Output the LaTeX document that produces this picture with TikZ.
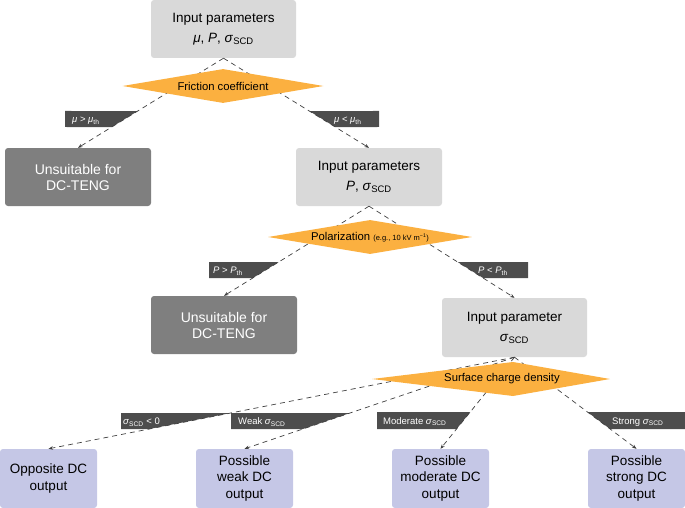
\documentclass[tikz,border=0pt]{standalone}
\usepackage{fontspec}
\setmainfont{Liberation Sans}
\usepackage{tikz}
\usetikzlibrary{arrows.meta,shapes.geometric}

\definecolor{boxgrey}{HTML}{D9D9D9}
\definecolor{unfitgrey}{HTML}{7F7F7F}
\definecolor{outblue}{HTML}{C5C7E6}
\definecolor{decorange}{HTML}{FBB040}
\definecolor{tabgrey}{HTML}{4D4D4D}

\newcommand{\scd}{\textit{σ}\textsubscript{SCD}}
\newcommand{\thr}[1]{\textit{#1}\textsubscript{th}}

\begin{document}
\begin{tikzpicture}[x=1pt, y=-1pt,
    inbox/.style={fill=boxgrey, rounded corners=3pt, minimum width=145pt, minimum height=58pt, inner sep=0pt, align=center, font=\fontsize{13.5}{20}\selectfont},
    unfit/.style={fill=unfitgrey, text=white, rounded corners=3pt, minimum width=146pt, minimum height=58pt, inner sep=0pt, align=center, font=\fontsize{14}{16}\selectfont},
    outbox/.style={fill=outblue, rounded corners=3pt, minimum width=97pt, minimum height=59pt, inner sep=0pt, align=center, font=\fontsize{13.5}{16.5}\selectfont},
    dectext/.style={inner sep=0pt, font=\fontsize{11.3}{13}\selectfont},
    decision/.style={dectext, diamond, aspect=6, fill=decorange},
    cond/.style={text=white, inner sep=0pt, anchor=base west, font=\fontsize{9.5}{11}\selectfont},
    flow/.style={draw=black!75, line width=0.7pt, dash pattern=on 5pt off 4pt, -{Stealth[length=4.5pt, width=3.5pt, fill=black]}}]
    \useasboundingbox (0,0) rectangle (685,508);

    \node[inbox] (in1) at (223.5,29) {Input parameters\\\textit{μ}, \textit{P}, \scd};
    \node[unfit] (unfit1) at (78,177) {Unsuitable for\\DC-TENG};
    \node[inbox, minimum width=146pt] (in2) at (369,177) {Input parameters\\\textit{P}, \scd};
    \node[unfit] (unfit2) at (224,325) {Unsuitable for\\DC-TENG};
    \node[inbox, minimum height=59pt] (in3) at (514.5,327.5) {Input parameter\\\scd};
    \node[outbox] (opp) at (48.5,478.5) {Opposite DC\\output};
    \node[outbox] (weak) at (244.5,478.5) {Possible\\weak DC\\output};
    \node[outbox] (moderate) at (440.5,478.5) {Possible\\moderate DC\\output};
    \node[outbox] (strong) at (636.5,478.5) {Possible\\strong DC\\output};

    % condition tabs, slanted side on the connector
    \fill[tabgrey] (65,111) -- (intersection of in1.south--unfit1.north and 0,111--1,111) -- (intersection of in1.south--unfit1.north and 0,127--1,127) -- (65,127) -- cycle;
    \fill[tabgrey] (intersection of in1.south--in2.north and 0,111--1,111) -- (379,111) -- (379,127) -- (intersection of in1.south--in2.north and 0,127--1,127) -- cycle;
    \fill[tabgrey] (209,262) -- (intersection of in2.south--unfit2.north and 0,262--1,262) -- (intersection of in2.south--unfit2.north and 0,278--1,278) -- (209,278) -- cycle;
    \fill[tabgrey] (intersection of in2.south--in3.north and 0,262--1,262) -- (528,262) -- (528,278) -- (intersection of in2.south--in3.north and 0,278--1,278) -- cycle;
    \fill[tabgrey] (121,413) -- (intersection of in3.south--opp.north and 0,413--1,413) -- (intersection of in3.south--opp.north and 0,429--1,429) -- (121,429) -- cycle;
    \fill[tabgrey] (231,413) -- (intersection of in3.south--weak.north and 0,413--1,413) -- (intersection of in3.south--weak.north and 0,429--1,429) -- (231,429) -- cycle;
    \fill[tabgrey] (377,412) -- (intersection of in3.south--moderate.north and 0,412--1,412) -- (intersection of in3.south--moderate.north and 0,429--1,429) -- (377,429) -- cycle;
    \fill[tabgrey] (intersection of in3.south--strong.north and 0,412--1,412) -- (686,412) -- (686,429) -- (intersection of in3.south--strong.north and 0,429--1,429) -- cycle;

    \draw[flow] (in1.south) -- (unfit1.north);
    \draw[flow] (in1.south) -- (in2.north);
    \draw[flow] (in2.south) -- (unfit2.north);
    \draw[flow] (in2.south) -- (in3.north);
    \draw[flow] (in3.south) -- (opp.north);
    \draw[flow] (in3.south) -- (weak.north);
    \draw[flow] (in3.south) -- (moderate.north);
    \draw[flow] (in3.south) -- (strong.north);

    \node[decision, minimum width=201pt, minimum height=34pt] (friction) at (223,86) {Friction coefficient};
    \node[decision, minimum width=204pt, minimum height=34pt] (polar) at (370,237) {Polarization {\fontsize{7.5}{9}\selectfont (e.g., 10 kV m\textsuperscript{−1})}};
    \fill[decorange] (372,379) -- (513,362) -- (610,379) -- (513,396) -- cycle;
    \node[dectext] (surface) at (502,379) {Surface charge density};

    \node[cond] (mu-hi) at (72,122.5) {\textit{μ} > \thr{μ}};
    \node[cond] (mu-lo) at (334,122.5) {\textit{μ} < \thr{μ}};
    \node[cond] (p-hi) at (213,273.5) {\textit{P} > \thr{P}};
    \node[cond] (p-lo) at (478,273.5) {\textit{P} < \thr{P}};
    \node[cond] (s-neg) at (123,424.5) {\scd{} < 0};
    \node[cond] (s-weak) at (238,424.5) {Weak \scd};
    \node[cond] (s-mod) at (383,424) {Moderate \scd};
    \node[cond] (s-strong) at (612,424) {Strong \scd};
\end{tikzpicture}
\end{document}
